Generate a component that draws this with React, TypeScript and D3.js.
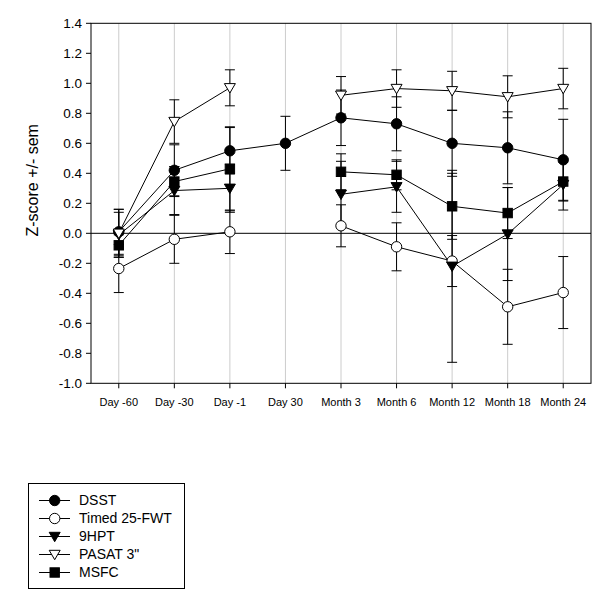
import React from "react";
import * as d3 from "d3";

const categories = ["Day -60", "Day -30", "Day -1", "Day 30", "Month 3", "Month 6", "Month 12", "Month 18", "Month 24"];
const yTicks = [-1.0, -0.8, -0.6, -0.4, -0.2, 0.0, 0.2, 0.4, 0.6, 0.8, 1.0, 1.2, 1.4];

const dsst = [0.01, 0.42, 0.55, 0.6, 0.77, 0.73, 0.6, 0.57, 0.49];
const dsstErr = [0.15, 0.17, 0.155, 0.18, 0.185, 0.18, 0.22, 0.24, 0.27];
const timed = [-0.235, -0.04, 0.01, null, 0.05, -0.09, -0.185, -0.49, -0.395];
const timedErr = [0.16, 0.16, 0.145, null, 0.14, 0.16, 0.17, 0.25, 0.24];
const hpt = [-0.01, 0.285, 0.3, null, 0.26, 0.31, -0.22, -0.005, 0.325];
const hptErr = [0.15, 0.16, 0.16, null, 0.22, 0.17, 0.64, 0.31, 0.17];
const pasat = [0.0, 0.745, 0.97, null, 0.92, 0.965, 0.95, 0.91, 0.965];
const pasatErr = [0.16, 0.145, 0.12, null, 0.125, 0.125, 0.13, 0.14, 0.135];
const msfc = [-0.08, 0.345, 0.43, null, 0.41, 0.39, 0.18, 0.135, 0.345];
const msfcErr = [0.07, 0.1, 0.28, null, 0.12, 0.1, 0.22, 0.17, 0.13];

type Marker = "circle" | "openCircle" | "tri" | "openTri" | "square";
const seriesList: { name: string; values: (number | null)[]; errs: (number | null)[]; marker: Marker }[] = [
  { name: "DSST", values: dsst, errs: dsstErr, marker: "circle" },
  { name: "Timed 25-FWT", values: timed, errs: timedErr, marker: "openCircle" },
  { name: "9HPT", values: hpt, errs: hptErr, marker: "tri" },
  { name: "PASAT 3\"", values: pasat, errs: pasatErr, marker: "openTri" },
  { name: "MSFC", values: msfc, errs: msfcErr, marker: "square" },
];

const FONT = "'Liberation Sans', Arial, Helvetica, sans-serif";
const L = 91, R = 591, T = 23.3, B = 383.3;

function MarkerShape({ kind, x, y }: { kind: Marker; x: number; y: number }) {
  const filled = kind === "circle" || kind === "tri" || kind === "square";
  const fill = filled ? "#000" : "#fff";
  if (kind === "circle" || kind === "openCircle") {
    return <circle cx={x} cy={y} r={5.2} fill={fill} stroke="#000" strokeWidth={1} />;
  }
  if (kind === "square") {
    return <rect x={x - 4.7} y={y - 4.7} width={9.4} height={9.4} fill={fill} stroke="#000" strokeWidth={1} />;
  }
  const p = `M${x - 5.5},${y - 4.2}L${x + 5.5},${y - 4.2}L${x},${y + 5.2}Z`;
  return <path d={p} fill={fill} stroke="#000" strokeWidth={1} />;
}

export default function App() {
  const x = d3.scaleBand<string>().domain(categories).range([L, R]).padding(0);
  const y = d3.scaleLinear().domain([-1.0, 1.4]).range([B, T]);
  const cx = (i: number) => (x(categories[i]) as number) + x.bandwidth() / 2;
  const fmt = (v: number) => (Math.abs(v) < 1e-9 ? "0.0" : v.toFixed(1));

  const line = d3
    .line<number | null>()
    .defined((d) => d !== null)
    .x((_, i) => cx(i))
    .y((d) => y(d as number));

  return (
    <svg width={600} height={598} style={{ position: "absolute", left: 0, top: 0, background: "#fff" }} fontFamily={FONT}>
      <rect x={0} y={0} width={600} height={598} fill="#fff" />
      {/* grid */}
      {categories.map((c, i) => (
        <line key={c} x1={cx(i)} x2={cx(i)} y1={T} y2={B} stroke="#cccccc" strokeWidth={1} />
      ))}
      {/* zero line */}
      <line x1={L} x2={R} y1={y(0)} y2={y(0)} stroke="#000" strokeWidth={1} />
      {/* frame */}
      <rect x={L} y={T} width={R - L} height={B - T} fill="none" stroke="#000" strokeWidth={1} />
      {/* y ticks */}
      {yTicks.map((t) => (
        <g key={t}>
          <line x1={L - 5} x2={L} y1={y(t)} y2={y(t)} stroke="#000" />
          <text x={L - 9} y={y(t)} dy="0.35em" textAnchor="end" fontSize={13.5} fill="#000">
            {fmt(t)}
          </text>
        </g>
      ))}
      {/* x ticks */}
      {categories.map((c, i) => (
        <g key={c}>
          <line x1={cx(i)} x2={cx(i)} y1={B} y2={B + 5} stroke="#000" />
          <text x={cx(i)} y={B + 23} textAnchor="middle" fontSize={11} fill="#000">
            {c}
          </text>
        </g>
      ))}
      <text transform={`translate(38,${(T + B) / 2 - 23}) rotate(-90)`} textAnchor="middle" fontSize={16} fill="#000">
        Z-score +/- sem
      </text>
      {/* lines */}
      {seriesList.map((s) => (
        <path key={s.name} d={line(s.values) || ""} fill="none" stroke="#000" strokeWidth={1} />
      ))}
      {/* error bars */}
      {seriesList.map((s) =>
        s.values.map((v, i) => {
          const e = s.errs[i];
          if (v === null || e === null) return null;
          const xx = cx(i);
          return (
            <g key={s.name + i} stroke="#000" strokeWidth={1}>
              <line x1={xx} x2={xx} y1={y(v + e)} y2={y(v - e)} />
              <line x1={xx - 5} x2={xx + 5} y1={y(v + e)} y2={y(v + e)} />
              <line x1={xx - 5} x2={xx + 5} y1={y(v - e)} y2={y(v - e)} />
            </g>
          );
        })
      )}
      {/* markers */}
      {seriesList.map((s) =>
        s.values.map((v, i) => (v === null ? null : <MarkerShape key={s.name + "m" + i} kind={s.marker} x={cx(i)} y={y(v)} />))
      )}
      {/* legend */}
      <rect x={28.5} y={483.5} width={156} height={105} fill="#fff" stroke="#000" strokeWidth={1} />
      {seriesList.map((s, i) => {
        const ly = 500.5 + i * 18;
        return (
          <g key={s.name + "leg"}>
            <line x1={39} x2={70} y1={ly} y2={ly} stroke="#000" />
            <MarkerShape kind={s.marker} x={54.7} y={ly} />
            <text x={79} y={ly} dy="0.35em" fontSize={14} fill="#000">
              {s.name}
            </text>
          </g>
        );
      })}
    </svg>
  );
}
